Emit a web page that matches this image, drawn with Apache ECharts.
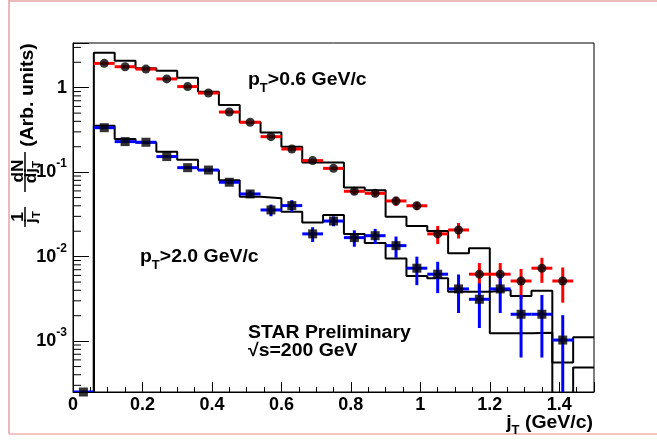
<!DOCTYPE html>
<html><head><meta charset="utf-8">
<script src="https://cdn.jsdelivr.net/npm/echarts@6/dist/echarts.min.js"></script>
<style>html,body{margin:0;padding:0;background:#fff}#c{width:657px;height:441px}</style>
</head><body><div id="c"></div>
<script>
// ---- data ----
const binCenters = [0.03,0.09,0.15,0.21,0.27,0.33,0.39,0.45,0.51,0.57,0.63,0.69,0.75,0.81,0.87,0.93,0.99,1.05,1.11,1.17,1.23,1.29,1.35,1.41,1.47];
const binWidth = 0.06;
// data pT>0.6 GeV/c (red, circles)
const pt06Values = [null,1.94,1.77,1.66,1.27,1.03,0.865,0.515,0.39,0.263,0.188,0.137,0.111,0.0594,0.0562,0.0456,0.040,0.0186,0.0207,0.0062,0.0062,0.00515,0.0073,0.00515,null];
const pt06Errors = [null,0.03,0.03,0.03,0.025,0.02,0.018,0.012,0.01,0.008,0.006,0.005,0.005,0.005,0.005,0.0057,0.0045,0.0045,0.0043,0.0022,0.0022,0.002,0.0024,0.0023,null];
// data pT>2.0 GeV/c (blue, squares)
const pt20Values = [0.00025,0.336,0.23,0.226,0.153,0.113,0.106,0.076,0.0552,0.0357,0.0402,0.0186,0.0264,0.0168,0.0177,0.0135,0.0073,0.0062,0.00415,0.00313,0.00415,0.00208,0.00208,0.00103,null];
const pt20Errors = [0,0.008,0.007,0.007,0.005,0.004,0.004,0.004,0.0055,0.0056,0.0064,0.0037,0.0035,0.0037,0.0036,0.0038,0.0027,0.0025,0.002,0.0017,0.002,0.00144,0.00144,0.001,null];
// histograms (black)
const simPt06 = [0,2.6,2.09,1.70,1.59,1.31,0.897,0.624,0.39,0.295,0.2,0.13,0.13,0.066,0.061,0.0297,0.0231,0.0201,0.011,0.0126,0.00124,0.00124,0.00126,0.000557,0.00111];
const simPt20 = [0,0.355,0.247,0.224,0.175,0.14,0.106,0.0804,0.0513,0.0491,0.0341,0.0253,0.0311,0.0185,0.0145,0.0095,0.0059,0.00555,0.00385,0.00385,0.00403,0.00343,0.00396,0,0.000486];
const xRange = [0, 1.5];
const yRange = [2.5e-4, 3.38];

// ---- build ----
const FONT = '"Liberation Sans", Arial, sans-serif';
const ZERO = 1e-9;
function histData(h){
  const d = binCenters.map((c,i)=>[+(c-binWidth/2).toFixed(3), h[i] > 0 ? h[i] : ZERO]);
  d.push([xRange[1], h[h.length-1] > 0 ? h[h.length-1] : ZERO]);
  return d;
}
function pointData(vals, errs){
  const out = [];
  vals.forEach((v,i)=>{ if(v!=null) out.push([binCenters[i], v, errs[i]]); });
  return out;
}
function errSeries(vals, errs, color){
  return {
    type:'custom', clip:true, z:3, silent:true,
    data: pointData(vals, errs),
    renderItem(params, api){
      const x = api.value(0), v = api.value(1), e = api.value(2);
      const c = api.coord([x, v]);
      const l = api.coord([x - binWidth/2, v]);
      const r = api.coord([x + binWidth/2, v]);
      const hi = api.coord([x, v + e]);
      const lo = api.coord([x, v - e > 0 ? v - e : ZERO]);
      return {type:'group', children:[
        {type:'line', shape:{x1:l[0], y1:c[1], x2:r[0], y2:c[1]}, style:{stroke:color, lineWidth:3}},
        {type:'line', shape:{x1:c[0], y1:hi[1], x2:c[0], y2:lo[1]}, style:{stroke:color, lineWidth:3}}
      ]};
    }
  };
}
// minor ticks on log axis (2..9 per decade)
const minorY = [];
for (let e = -4; e <= 0; e++) for (let m = 2; m <= 9; m++) {
  const v = m * Math.pow(10, e);
  if (v > yRange[0] && v < yRange[1]) minorY.push([xRange[0], v]);
}

const sub = {fontSize:12, fontWeight:'bold', fontFamily:FONT, verticalAlign:'bottom', lineHeight:13, fill:'#000', color:'#000'};
const main = {fontSize:18, fontWeight:'bold', fontFamily:FONT, lineHeight:28, fill:'#000', color:'#000'};

function label(text, x, y, opts){
  return Object.assign({type:'text', x:x, y:y, scaleX:1.08, z:10,
    style:{text:text, rich:{a:main, s:sub}, fill:'#000', font:'bold 18px '+FONT,
      align:'left', verticalAlign:'middle', textAlign:'left', textVerticalAlign:'middle'}}, opts||{});
}

const chart = echarts.init(document.getElementById('c'), null, {renderer:'canvas'});
chart.setOption({
  animation:false,
  backgroundColor:'#fff',
  grid:{left:73, top:43, width:521, height:349, show:true, borderColor:'#000', borderWidth:1, backgroundColor:'transparent'},
  xAxis:[{
    type:'value', min:xRange[0], max:xRange[1], interval:0.2, position:'bottom',
    axisLine:{show:true, lineStyle:{color:'#000', width:1}},
    axisTick:{show:true, inside:true, length:10, lineStyle:{color:'#000', width:1}},
    splitLine:{show:false},
    axisLabel:{color:'#000', fontSize:18, fontWeight:'bold', fontFamily:FONT, margin:4,
      formatter:v => v > 1.45 ? '' : String(+v.toFixed(1))}
  },{
    type:'value', min:xRange[0], max:xRange[1], interval:0.05, position:'bottom', offset:0,
    axisLine:{show:false}, axisLabel:{show:false}, splitLine:{show:false},
    axisTick:{show:true, inside:true, length:5, lineStyle:{color:'#000', width:1}}
  }],
  yAxis:{
    type:'log', logBase:10, min:yRange[0], max:yRange[1],
    axisLine:{show:true, lineStyle:{color:'#000', width:1}},
    axisTick:{show:true, inside:true, length:16, lineStyle:{color:'#000', width:1}},
    splitLine:{show:false}, minorTick:{show:false},
    axisLabel:{margin:6, color:'#000',
      formatter:function(v){
        const lg = Math.log10(v), e = Math.round(lg);
        if (Math.abs(lg - e) > 1e-6) return '';
        if (e === 0) return '{b|1}';
        return '{b|10}{s|' + e + '}';
      },
      rich:{
        b:{fontSize:18, fontWeight:'bold', fontFamily:FONT, lineHeight:28, color:'#000'},
        s:{fontSize:12, fontWeight:'bold', fontFamily:FONT, lineHeight:12, verticalAlign:'top', color:'#000'}
      }
    }
  },
  series:[
    {type:'custom', silent:true, z:2, data:minorY, clip:false,
      renderItem(params, api){
        const p = api.coord([api.value(0), api.value(1)]);
        return {type:'line', shape:{x1:p[0], y1:p[1], x2:p[0]+8, y2:p[1]}, style:{stroke:'#000', lineWidth:1}};
      }},
    {type:'line', step:'end', data:histData(simPt06), showSymbol:false, clip:true, z:2,
      lineStyle:{color:'#000', width:2}, itemStyle:{color:'#000'}},
    {type:'line', step:'end', data:histData(simPt20), showSymbol:false, clip:true, z:2,
      lineStyle:{color:'#000', width:2}, itemStyle:{color:'#000'}},
    errSeries(pt06Values, pt06Errors, '#ff0000'),
    errSeries(pt20Values, pt20Errors, '#0000ff'),
    {type:'scatter', symbol:'circle', symbolSize:9, clip:false, z:4,
      data:pointData(pt06Values, pt06Errors).map(d=>[d[0], d[1]]), itemStyle:{color:'#000'}},
    {type:'scatter', symbol:'rect', symbolSize:9, clip:false, z:4,
      data:pointData(pt20Values, pt20Errors).map(d=>[d[0], d[1]]), itemStyle:{color:'#000'}}
  ],
  graphic:[
    {type:'line', shape:{x1:9, y1:0, x2:9, y2:434}, style:{stroke:'#e3a3a3', lineWidth:1.5}},
    {type:'line', shape:{x1:9, y1:1, x2:657, y2:1}, style:{stroke:'#e3a3a3', lineWidth:1.5}},
    {type:'line', shape:{x1:9, y1:434, x2:657, y2:434}, style:{stroke:'#f0b0b0', lineWidth:1.5}},
    label('{a|p}{s|T}{a|>0.6 GeV/c}', 248, 80.5),
    label('{a|p}{s|T}{a|>2.0 GeV/c}', 140, 257.5),
    label('{a|STAR Preliminary}', 248, 333.5),
    label('{a|√s=200 GeV}', 248, 351),
    label('{a|j}{s|T}{a| (GeV/c)}', 593, 423, {style:{text:'{a|j}{s|T}{a| (GeV/c)}', rich:{a:main, s:sub}, fill:'#000',
      align:'right', verticalAlign:'middle', textAlign:'right', textVerticalAlign:'middle'}}),
    // y axis title (rotated)
    {type:'text', x:28, y:95, rotation:Math.PI/2, scaleX:1.08, style:{text:'(Arb. units)', font:'bold 18px '+FONT, fill:'#000',
      align:'center', verticalAlign:'middle', textAlign:'center', textVerticalAlign:'middle'}},
    {type:'text', x:19, y:217, rotation:Math.PI/2, scaleX:1.08, style:{text:'1', font:'bold 16px '+FONT, fill:'#000',
      align:'center', verticalAlign:'middle', textAlign:'center', textVerticalAlign:'middle'}},
    {type:'text', x:19, y:171, rotation:Math.PI/2, scaleX:1.08, style:{text:'dN', font:'bold 16px '+FONT, fill:'#000',
      align:'center', verticalAlign:'middle', textAlign:'center', textVerticalAlign:'middle'}},
    {type:'text', x:31.5, y:217, rotation:Math.PI/2, scaleX:1.08, style:{text:'{a|j}{s|T}',
      rich:{a:Object.assign({}, main, {fontSize:16, lineHeight:22}), s:Object.assign({}, sub, {fontSize:11, lineHeight:11})}, fill:'#000',
      align:'center', verticalAlign:'middle', textAlign:'center', textVerticalAlign:'middle'}},
    {type:'text', x:31.5, y:172, rotation:Math.PI/2, scaleX:1.08, style:{text:'{a|dj}{s|T}',
      rich:{a:Object.assign({}, main, {fontSize:16, lineHeight:22}), s:Object.assign({}, sub, {fontSize:11, lineHeight:11})}, fill:'#000',
      align:'center', verticalAlign:'middle', textAlign:'center', textVerticalAlign:'middle'}},
    {type:'line', shape:{x1:25, y1:207, x2:25, y2:227}, style:{stroke:'#000', lineWidth:1.5}},
    {type:'line', shape:{x1:25, y1:152, x2:25, y2:192}, style:{stroke:'#000', lineWidth:1.5}}
  ]
});
</script>
</body></html>
